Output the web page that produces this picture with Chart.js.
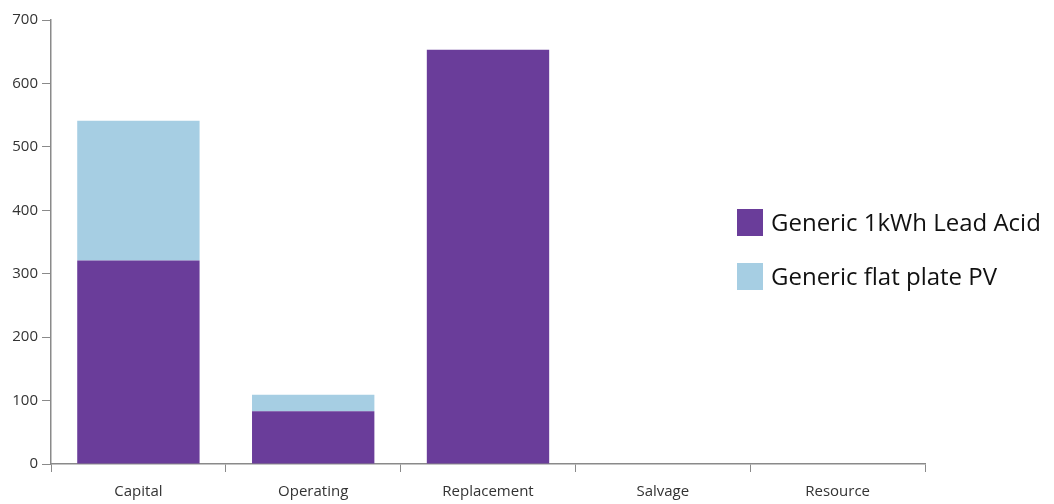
<!DOCTYPE html>
<html>
<head>
<meta charset="utf-8">
<script src="https://cdn.jsdelivr.net/npm/chart.js@4/dist/chart.umd.min.js"></script>
<style>
  html, body { margin: 0; padding: 0; background: #fff; }
  #wrap { position: relative; width: 1054px; height: 504px; }
</style>
</head>
<body>
<div id="wrap"><canvas id="costChart"></canvas></div>
<script>
  'use strict';

  // Cost categories and per-component values
  var categories = ['Capital', 'Operating', 'Replacement', 'Salvage', 'Resource'];
  var leadAcid = [321, 83, 653, 0, 0];
  var flatPlatePV = [220, 26, 0, 0, 0];
  var yTicks = [0, 100, 200, 300, 400, 500, 600, 700];

  var seriesNames = ['Generic 1kWh Lead Acid', 'Generic flat plate PV'];
  var seriesColors = ['#6a3d9a', '#a6cee3'];
  var fontFamily = '"Open Sans", "Noto Sans", sans-serif';

  // Draws the legend as coloured squares with labels, right of the plot
  var sideLegend = {
    id: 'sideLegend',
    afterDraw: function (chart) {
      var ctx = chart.ctx;
      ctx.save();
      ctx.font = '24px ' + fontFamily;
      ctx.textBaseline = 'middle';
      chart.data.datasets.forEach(function (ds, i) {
        var y = 209 + i * 54;
        ctx.fillStyle = ds.backgroundColor;
        ctx.fillRect(737, y, 26, 27);
        ctx.fillStyle = '#111';
        ctx.fillText(ds.label, 771, y + 15);
      });
      ctx.restore();
    }
  };

  new Chart(document.getElementById('costChart'), {
    type: 'bar',
    data: {
      labels: categories,
      datasets: [
        { label: seriesNames[0], data: leadAcid, backgroundColor: seriesColors[0] },
        { label: seriesNames[1], data: flatPlatePV, backgroundColor: seriesColors[1] }
      ]
    },
    options: {
      responsive: true,
      maintainAspectRatio: false,
      animation: false,
      layout: { padding: { top: 20, right: 129, left: 0, bottom: 0 } },
      datasets: { bar: { categoryPercentage: 0.7, barPercentage: 1.0 } },
      plugins: {
        legend: { display: false },
        tooltip: { enabled: false }
      },
      scales: {
        x: {
          stacked: true,
          grid: {
            offset: true,
            drawOnChartArea: false,
            drawTicks: true,
            tickLength: 8,
            color: '#8a8a8a'
          },
          border: { color: '#8a8a8a', width: 1.5 },
          ticks: {
            color: '#333',
            padding: 11,
            font: { family: fontFamily, size: 15 }
          },
          afterFit: function (scale) { scale.height = 40; }
        },
        y: {
          stacked: true,
          min: 0,
          max: 700,
          afterBuildTicks: function (scale) {
            scale.ticks = yTicks.map(function (v) { return { value: v }; });
          },
          grid: {
            drawOnChartArea: false,
            drawTicks: true,
            tickLength: 9,
            color: '#8a8a8a'
          },
          border: { color: '#8a8a8a', width: 1.5 },
          ticks: {
            color: '#333',
            padding: 4,
            font: { family: fontFamily, size: 15 }
          },
          afterFit: function (scale) { scale.width = 51; }
        }
      }
    },
    plugins: [sideLegend]
  });
</script>
</body>
</html>
